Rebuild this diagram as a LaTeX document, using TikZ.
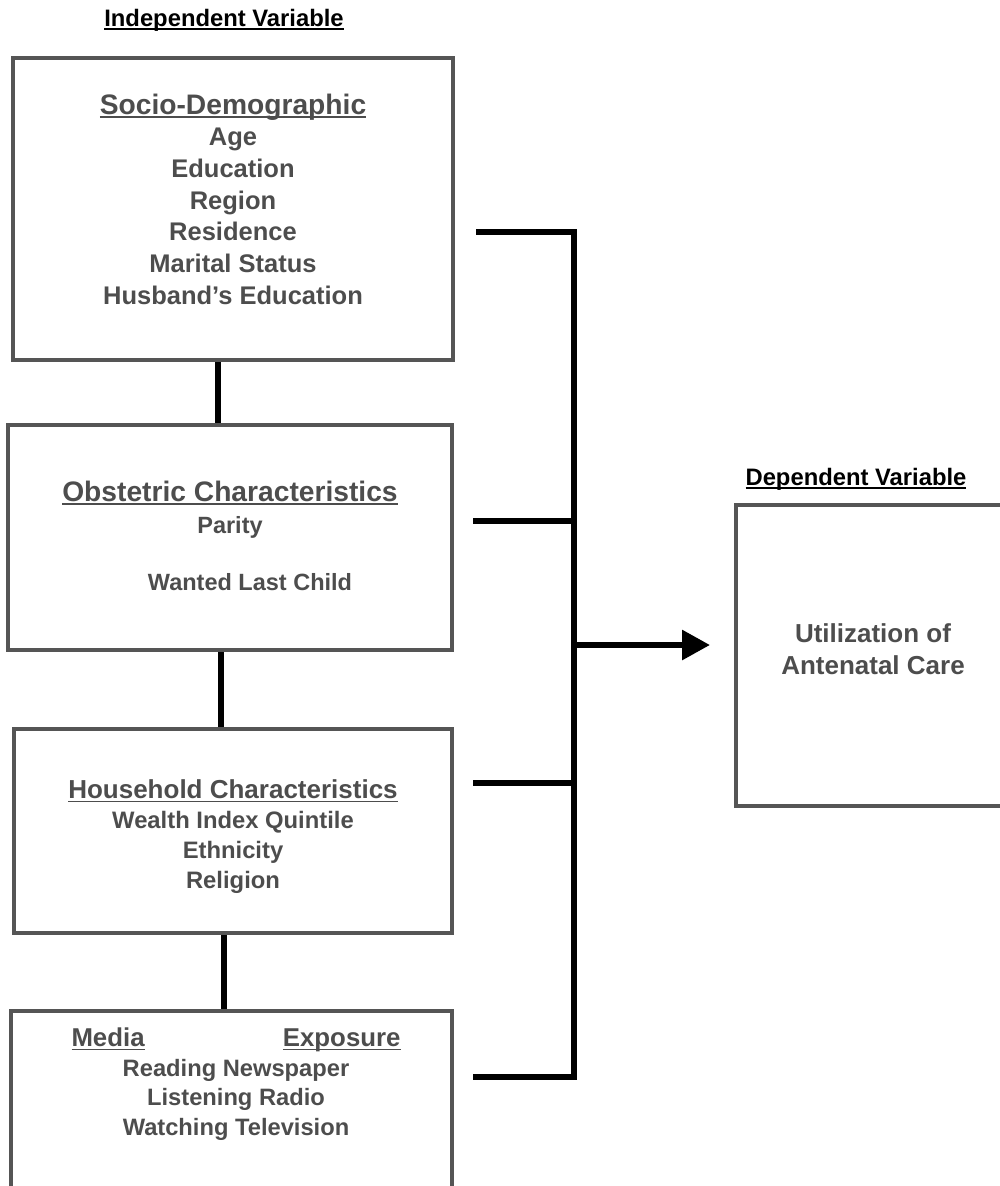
\documentclass[tikz,border=0pt]{standalone}
\usepackage{fontspec}
\setmainfont{Liberation Sans}
\usetikzlibrary{arrows.meta,positioning}

\definecolor{boxgray}{HTML}{555555}
\definecolor{textgray}{HTML}{4D4D4D}
\newcommand{\ulined}[1]{\setbox0\hbox{#1}\rlap{\rule[-3.5pt]{\wd0}{1.4pt}}\box0}

\begin{document}
\begin{tikzpicture}[x=1pt,y=-1pt,>=Latex,
  varbox/.style={draw=boxgray,line width=4pt,minimum width=440pt,align=center,text=textgray,inner sep=0pt,font=\fontsize{25.5}{31.7}\selectfont\bfseries},
  head/.style={font=\fontsize{23.8}{28}\selectfont\bfseries,inner sep=0pt},
  link/.style={line width=6pt}]
\useasboundingbox (0,0) rectangle (999,1186);

% independent side
\node[head] (indep) at (224,20) {\ulined{Independent Variable}};
\node[varbox,minimum height=302pt] (socio) at (233,209) {{\fontsize{28.2}{31.7}\selectfont\ulined{Socio-Demographic}}\\Age\\Education\\Region\\Residence\\Marital Status\\Husband’s Education\rule[-20pt]{0pt}{0pt}};
\node[varbox,minimum width=444pt,minimum height=225pt,font=\fontsize{23.5}{32}\selectfont\bfseries] (obst) at (230,537.5) {{\fontsize{28.2}{32}\selectfont\ulined{Obstetric Characteristics}}\\Parity\\[25pt]\hspace*{40pt}Wanted Last Child\rule[-4pt]{0pt}{0pt}};
\node[varbox,minimum width=438pt,minimum height=204pt,font=\fontsize{23.8}{30}\selectfont\bfseries] (house) at (233,831) {{\fontsize{26}{30}\selectfont\rule{0pt}{30pt}\ulined{Household Characteristics}}\\Wealth Index Quintile\\Ethnicity\\Religion};
\node[varbox,minimum width=441pt,minimum height=300pt,anchor=north] (media) at (231.5,1009) {};
\node[align=center,text=textgray,inner sep=0pt,font=\fontsize{23.7}{29.5}\selectfont\bfseries] (mediatext) at (236,1084) {{\fontsize{25.8}{29.5}\selectfont\makebox[329pt]{\ulined{Media}\hfill\ulined{Exposure}}}\\Reading Newspaper\\Listening Radio\\Watching Television};

\draw[link] ([xshift=-15pt]socio.south) -- ([xshift=-12pt]obst.north);
\draw[link] ([xshift=-9pt]obst.south) -- ([xshift=-12pt]house.north);
\draw[link] ([xshift=-9pt]house.south) -- ([xshift=-7.5pt]media.north);

% dependent side
\node[head] (dep) at (856,479) {\ulined{Dependent Variable}};
\node[varbox,minimum width=274pt,minimum height=301pt,font=\fontsize{26}{32}\selectfont\bfseries] (anc) at (873,655.5) {Utilization of\\Antenatal Care\rule[-12pt]{0pt}{0pt}};

% bracket
\coordinate (t1) at (476,232);
\coordinate (t2) at (473,521);
\coordinate (t3) at (473,783);
\coordinate (t4) at (473,1077);
\coordinate (btop) at (574,232);
\coordinate (bbot) at (574,1077);
\coordinate (bmid) at (571,645);
\draw[link] (t1) -- (btop) -- (bbot) -- (t4);
\draw[link] (t2) -- (t2 -| btop);
\draw[link] (t3) -- (t3 -| btop);
\draw[link,-{Triangle[length=28pt,width=29pt]},shorten >=24pt] (bmid) -- (bmid -| anc.west);
\end{tikzpicture}
\end{document}
